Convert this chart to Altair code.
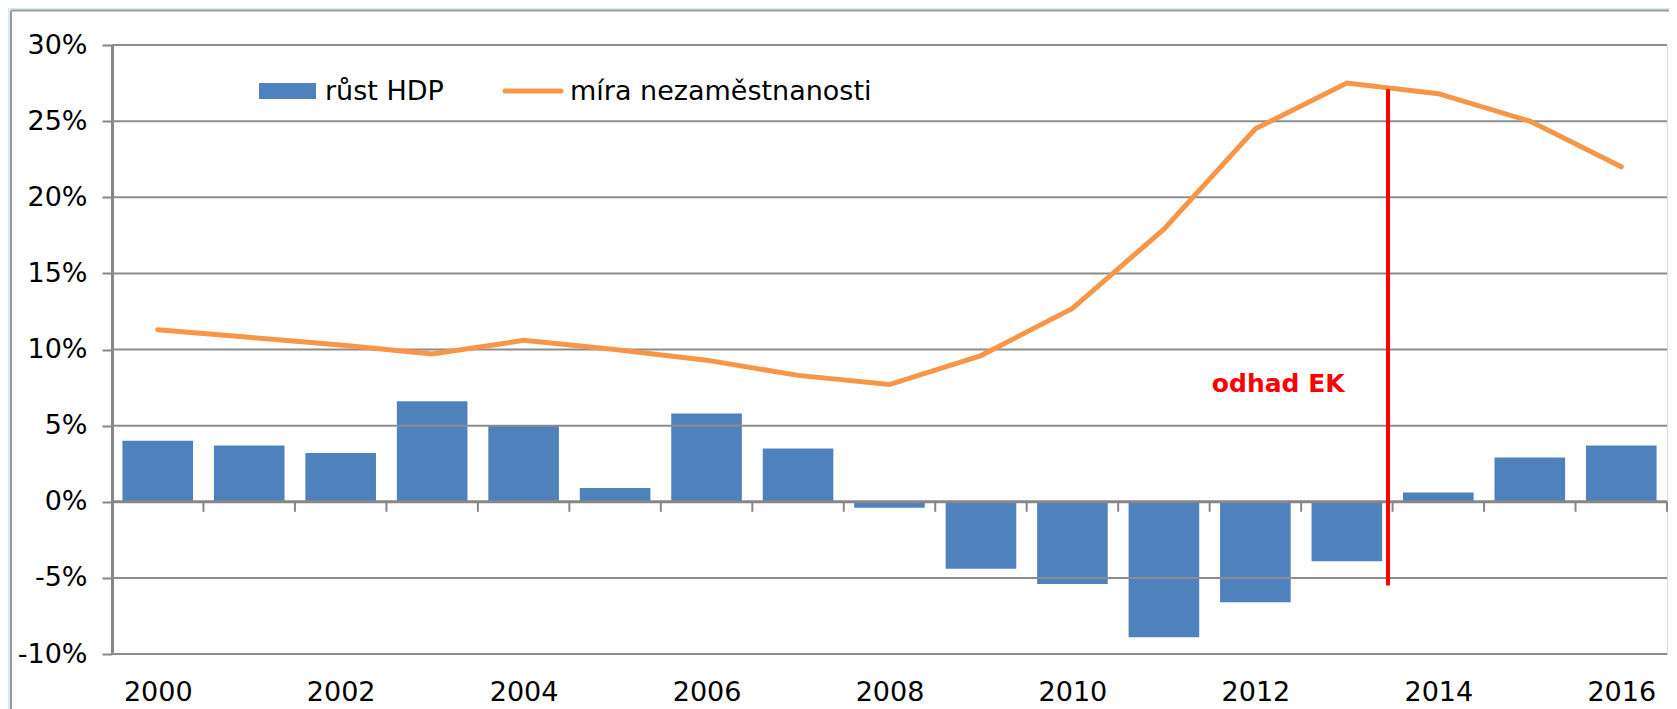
import altair as alt
import pandas as pd

# ---- data ----
years = list(range(2000, 2017))
gdp_growth = [4.0, 3.7, 3.2, 6.6, 5.0, 0.9, 5.8, 3.5, -0.4, -4.4, -5.4, -8.9, -6.6, -3.9, 0.6, 2.9, 3.7]
unemployment = [11.3, 10.8, 10.3, 9.7, 10.6, 10.0, 9.3, 8.3, 7.7, 9.6, 12.7, 17.9, 24.5, 27.5, 26.8, 25.0, 22.0]
y_ticks = [-10, -5, 0, 5, 10, 15, 20, 25, 30]
x_label_years = [2000, 2002, 2004, 2006, 2008, 2010, 2012, 2014, 2016]
legend_labels = ["růst HDP", "míra nezaměstnanosti"]
annotation_text = "odhad EK"
annotation_year = 2012.25
annotation_value = 7.2
forecast_split = 2013.45
forecast_top = 27.1
forecast_bottom = -5.5

BLUE = "#4F81BD"
ORANGE = "#F79646"
GRAY = "#878787"
LIGHTBLUE = "#D4EAF7"
FONT = "DejaVu Sans"

df = pd.DataFrame({"year": years, "gdp": gdp_growth, "unemp": unemployment})
grid_df = pd.DataFrame({"v": [v for v in y_ticks if v != 0]})
one = pd.DataFrame({"a": [0]})

xs = alt.Scale(domain=[1999.5, 2016.5], nice=False, zero=False)
ys = alt.Scale(domain=[-10, 30], nice=False)

# frame decoration: light-blue strips and grey border of the panel
strip_left = alt.Chart(one).mark_rect(color=LIGHTBLUE).encode(
    x=alt.value(-104), x2=alt.value(-102), y=alt.value(-37), y2=alt.value(700))
strip_top = alt.Chart(one).mark_rect(color=LIGHTBLUE).encode(
    x=alt.value(-104), x2=alt.value(1600), y=alt.value(-37), y2=alt.value(-35.5))
border_left = alt.Chart(one).mark_rule(color="#9a9a9a", strokeWidth=2).encode(
    x=alt.value(-101), y=alt.value(-34.5), y2=alt.value(700))
border_top = alt.Chart(one).mark_rule(color="#9a9a9a", strokeWidth=2).encode(
    x=alt.value(-101), x2=alt.value(1600), y=alt.value(-34.5))

grid = alt.Chart(grid_df).mark_rule(color="#8c8c8c", strokeWidth=2).encode(
    y=alt.Y("v:Q", scale=ys, title=None)
)

bars = alt.Chart(df).transform_calculate(
    x0="datum.year - 0.386", x1="datum.year + 0.386"
).mark_bar(color=BLUE).encode(
    x=alt.X("x0:Q", scale=xs, title=None, axis=alt.Axis(
        values=x_label_years, format="d", ticks=False, domain=False, grid=False,
        labelFontSize=27, labelFont=FONT, labelColor="black",
        labelBaseline="alphabetic", labelPadding=46, tickSize=0,
        labelFlush=False)),
    x2="x1:Q",
    y=alt.Y("gdp:Q", scale=ys, title=None, axis=alt.Axis(
        values=y_ticks, labelExpr="datum.value + '%'", grid=False,
        domain=True, domainColor=GRAY, domainWidth=3,
        ticks=True, tickColor=GRAY, tickWidth=2, tickSize=10,
        labelPadding=15, labelFontSize=27, labelFont=FONT, labelColor="black",
        labelBaseline="middle")),
    y2=alt.datum(0),
)

zero_line = alt.Chart(one).mark_rule(color=GRAY, strokeWidth=3).encode(
    y=alt.datum(0)
)

ticks = alt.Chart(df).transform_calculate(b="datum.year + 0.5").mark_rule(
    color=GRAY, strokeWidth=2
).encode(
    x=alt.X("b:Q", scale=xs, title=None),
    y=alt.datum(0),
    y2=alt.datum(-0.66),
)

line = alt.Chart(df).mark_line(color=ORANGE, strokeWidth=5, strokeCap="round").encode(
    x=alt.X("year:Q", scale=xs, title=None),
    y=alt.Y("unemp:Q", scale=ys, title=None),
)

split_df = pd.DataFrame({"x": [forecast_split], "top": [forecast_top], "bottom": [forecast_bottom]})
split = alt.Chart(split_df).mark_rule(color="#FF0000", strokeWidth=4).encode(
    x=alt.X("x:Q", scale=xs, title=None),
    y=alt.Y("top:Q", scale=ys, title=None),
    y2="bottom:Q",
)

ann_df = pd.DataFrame({"x": [annotation_year], "y": [annotation_value], "t": [annotation_text]})
annotation = alt.Chart(ann_df).mark_text(
    color="#FF0000", fontSize=25, fontWeight="bold", font=FONT, align="center", baseline="alphabetic"
).encode(
    x=alt.X("x:Q", scale=xs, title=None),
    y=alt.Y("y:Q", scale=ys, title=None),
    text="t:N",
)

# legend (drawn manually)
leg_bar = alt.Chart(one).mark_rect(color=BLUE).encode(
    x=alt.value(147), x2=alt.value(204), y=alt.value(38), y2=alt.value(54)
)
leg_line = alt.Chart(one).mark_rule(color=ORANGE, strokeWidth=5, strokeCap="round").encode(
    x=alt.value(393), x2=alt.value(449), y=alt.value(46)
)
leg_text_df = pd.DataFrame({"t": legend_labels, "px": [213, 458]})
leg_text = alt.Chart(leg_text_df).mark_text(
    fontSize=27, font=FONT, align="left", baseline="alphabetic", color="black"
).encode(
    x=alt.X("px:Q", scale=None), y=alt.value(55), text="t:N"
)

chart = alt.layer(
    strip_left, strip_top, border_left, border_top,
    bars, grid, zero_line, ticks, line, split, annotation, leg_bar, leg_line, leg_text
).properties(
    width=1555, height=609,
    padding={"left": 104, "top": 37, "right": 2, "bottom": 56},
    autosize=alt.AutoSizeParams(type="none"),
    background="white",
).configure_view(stroke=None).configure(font=FONT)

chart.save("out.html", embed_options={"renderer": "svg", "actions": False})
